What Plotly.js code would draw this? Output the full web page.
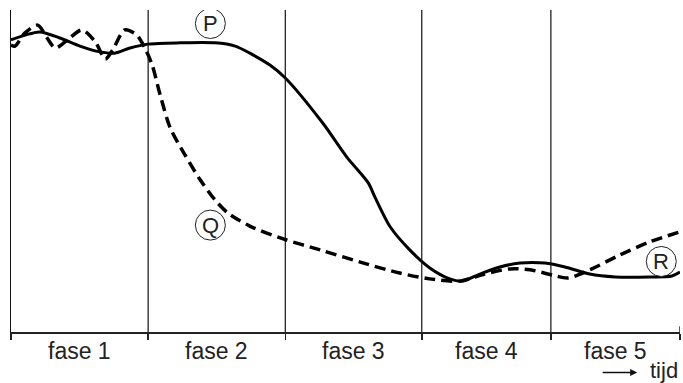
<!DOCTYPE html>
<html>
<head>
<meta charset="utf-8">
<script src="https://cdn.plot.ly/plotly-3.0.1.min.js"></script>
<style>
  html, body { margin: 0; padding: 0; background: #fff; }
  #chart { width: 683px; height: 383px; }
</style>
</head>
<body>
<div id="chart"></div>
<script>
// tijd in % of the whole axis, niveau in % of the plot height
var tijdP = [0, 2.1, 4.3, 7.3, 10.3, 13.3, 15.5, 17.8, 20.5, 25.3, 30.5, 33.5, 35.7, 38.7, 41.0,
  46.6, 50.2, 53.4, 54.4, 56.7, 59.6, 62.6, 65.6, 67.4, 70.1, 73.1, 76.1, 79.8, 82.8, 86.5,
  90.3, 95.5, 98.8, 100];
var niveauP = [90.7, 92.2, 93.2, 91.3, 88.8, 87.0, 86.6, 88.2, 89.4, 89.8, 89.8, 88.8, 86.6, 82.9, 78.9,
  64.9, 54.3, 46.3, 41.9, 32.6, 25.5, 19.9, 16.5, 15.8, 18.0, 20.2, 21.4, 21.4, 20.2, 18.0,
  17.1, 17.1, 17.4, 18.6];

var tijdQ = [0, 0.6, 2.1, 4.0, 5.4, 6.6, 8.1, 10.6, 12.6, 14.1, 15.2, 17.0, 18.8, 20.0, 21.1,
  22.3, 23.8, 26.0, 28.3, 30.5, 32.4, 35.7, 40.7, 46.2, 52.2, 58.1, 62.6, 67.1, 70.8, 74.6,
  77.6, 80.9, 83.3, 86.5, 91.0, 95.5, 100];
var niveauQ = [89.1, 88.8, 92.9, 95.3, 91.3, 88.2, 90.1, 93.8, 90.1, 84.8, 87.6, 93.8, 92.2, 88.2, 82.9,
  73.6, 63.4, 55.0, 47.2, 41.0, 37.0, 32.9, 28.9, 25.5, 21.7, 18.3, 16.5, 15.8, 18.0, 19.6,
  19.3, 17.7, 16.8, 19.3, 23.9, 28.0, 31.1];

var faseGrenzen = [0, 20.5, 41.0, 61.4, 80.7, 100];
var faseNamen = ["fase 1", "fase 2", "fase 3", "fase 4", "fase 5"];

var letters = ["P", "Q", "R"];
var letterTijd = [29.8, 29.8, 97.2];
var letterNiveau = [95.8, 33.2, 21.9];

var traceP = {
  x: tijdP, y: niveauP, mode: "lines", type: "scatter",
  line: { color: "#000", width: 3, shape: "spline", smoothing: 0.8 },
  hoverinfo: "skip"
};
var traceQ = {
  x: tijdQ, y: niveauQ, mode: "lines", type: "scatter",
  line: { color: "#000", width: 3.5, shape: "spline", smoothing: 0.8, dash: "11px,6px" },
  hoverinfo: "skip"
};

var shapes = [];
// fase separators
for (var i = 1; i < faseGrenzen.length - 1; i++) {
  shapes.push({
    type: "line", xref: "x", yref: "paper",
    x0: faseGrenzen[i], x1: faseGrenzen[i], y0: 0, y1: 1,
    line: { color: "#111", width: 1.2 }
  });
}
// small tick above the axis at the right end
shapes.push({
  type: "line", xref: "x", yref: "paper",
  x0: 100, x1: 100, y0: 0, y1: 0.018,
  line: { color: "#222", width: 1.5 }
});

var annotations = [];
for (var j = 0; j < faseNamen.length; j++) {
  annotations.push({
    x: (faseGrenzen[j] + faseGrenzen[j + 1]) / 2, y: -0.058,
    xref: "x", yref: "paper", text: faseNamen[j], showarrow: false,
    xanchor: "center", yanchor: "middle",
    font: { family: "Liberation Sans, Arial, sans-serif", size: 23, color: "#222" }
  });
}
// circled letters
for (var k = 0; k < letters.length; k++) {
  shapes.push({
    type: "circle", xref: "x", yref: "y",
    xsizemode: "pixel", ysizemode: "pixel",
    xanchor: letterTijd[k], yanchor: letterNiveau[k],
    x0: -15, x1: 15, y0: -15, y1: 15,
    line: { color: "#222", width: 1 }, fillcolor: "rgba(255,255,255,1)", layer: "above"
  });
  annotations.push({
    x: letterTijd[k], y: letterNiveau[k], xref: "x", yref: "y",
    text: letters[k], showarrow: false, xanchor: "center", yanchor: "middle",
    font: { family: "Liberation Sans, Arial, sans-serif", size: 22, color: "#222" }
  });
}
// tijd arrow + label
annotations.push({
  x: 93.6, y: -0.126, xref: "x", yref: "paper",
  ax: -36, ay: 0, axref: "pixel", ayref: "pixel",
  text: "", showarrow: true, arrowhead: 2, arrowsize: 1, arrowwidth: 1.4, arrowcolor: "#111"
});
annotations.push({
  x: 100, y: -0.12, xref: "x", yref: "paper", text: "tijd", showarrow: false,
  xanchor: "right", yanchor: "middle",
  font: { family: "Liberation Sans, Arial, sans-serif", size: 22, color: "#222" }
});

var layout = {
  width: 683, height: 383,
  margin: { l: 11, r: 3, t: 10, b: 51 },
  paper_bgcolor: "#fff", plot_bgcolor: "#fff",
  showlegend: false,
  xaxis: {
    range: [0, 100], showgrid: false, zeroline: false,
    showline: true, linecolor: "#222", linewidth: 2,
    ticks: "outside", ticklen: 6, tickwidth: 1.5, tickcolor: "#222",
    tickvals: faseGrenzen, showticklabels: false, fixedrange: true
  },
  yaxis: {
    range: [0, 100], showgrid: false, zeroline: false,
    showline: true, linecolor: "#111", linewidth: 1.5,
    ticks: "", showticklabels: false, fixedrange: true
  },
  shapes: shapes,
  annotations: annotations
};

Plotly.newPlot("chart", [traceP, traceQ], layout, { displayModeBar: false, staticPlot: true });
</script>
</body>
</html>
